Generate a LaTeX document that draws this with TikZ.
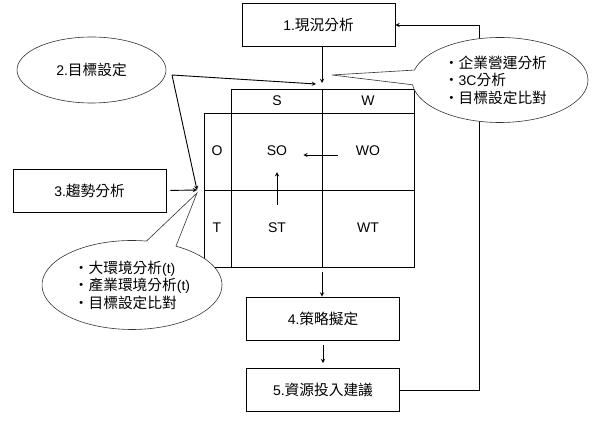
\documentclass[tikz,border=0pt]{standalone}
\usepackage{fontspec}
\setmainfont{Liberation Sans}
\newfontfamily\cjk[Scale=1.05]{Noto Sans CJK TC}
\usetikzlibrary{shapes.geometric, shapes.callouts, arrows}
\tikzstyle{process} = [rectangle, minimum width=153pt, minimum height=43pt, text centered, draw=black, line width=0.9pt, fill=white]
\tikzstyle{goal} = [ellipse, minimum width=149pt, minimum height=66pt, text centered, draw=black!80, line width=0.6pt]
\tikzstyle{note} = [ellipse callout, callout pointer arc=20, align=left, draw=black!80, line width=0.6pt, fill=white]
\tikzstyle{cell} = [inner sep=0pt]
\tikzstyle{grid} = [line width=0.9pt]
\tikzstyle{arrow} = [line width=0.9pt,->,>=stealth]

\begin{document}
\begin{tikzpicture}[x=1pt, y=-1pt, node distance=71.5pt, font=\fontsize{14}{17.5}\selectfont]
\useasboundingbox (0,0) rectangle (597,427);

\node (now) [process] at (318.5,25) {1.{\cjk 現況分析}};
\node (goal) [goal] at (91.5,70) {2.{\cjk 目標設定}};
\node (trend) [process] at (89.5,190.5) {3.{\cjk 趨勢分析}};
\node (strategy) [process] at (323,318.5) {4.{\cjk 策略擬定}};
\node (plan) [process, below of=strategy] {5.{\cjk 資源投入建議}};

% swot matrix
\draw [grid] (231,89) rectangle (414,113);
\draw [grid] (204,113) rectangle (414,267);
\draw [grid] (231,113) -- (231,267);
\draw [grid] (322,89) -- (322,267);
\draw [grid] (204,190) -- (414,190);

\node (s) [cell] at (277,101) {S};
\node (w) [cell] at (368,101) {W};
\node (o) [cell] at (217,151) {O};
\node (t) [cell] at (217,228) {T};
\node (so) [cell] at (277,151) {SO};
\node (wo) [cell] at (368,151) {WO};
\node (st) [cell] at (277,228) {ST};
\node (wt) [cell] at (368,228) {WT};

\coordinate (goalout) at (172,75);
\coordinate (goalin) at (316,84);
\coordinate (swottop) at (322,83);
\coordinate (swotleft) at (197,190);
\coordinate (swotbottom) at (322,272);
\coordinate (nowtip) at (332,75);
\coordinate (trendtip) at (197,193);

\draw [arrow] (now.south -| swottop) -- (swottop);
\draw [arrow] (goalout) -- (goalin);
\draw [arrow] (goalout) -- (swotleft);
\draw [arrow, shorten <=4pt] (trend.east) -- (swotleft);
\draw [arrow, shorten <=18pt, shorten >=16pt] ([yshift=-4pt]wo.west) -- ([yshift=-4pt]so.east);
\draw [arrow, shorten <=18pt, shorten >=16pt] (st.north) -- (so.south);
\draw [arrow] (swotbottom) -- (strategy.north -| swotbottom);
\draw [arrow, shorten <=5pt, shorten >=5pt] (strategy) -- (plan);
\draw [arrow] (plan.east) -- ++(79,0) |- (now.east);

\node (nownote) [note, text width=112pt, minimum width=176pt, minimum height=85pt, callout absolute pointer={(nowtip)}] at (500,80) {{\cjk ・企業營運分析}\\{\cjk ・}3C{\cjk 分析}\\{\cjk ・目標設定比對}};
\node (trendnote) [note, minimum width=180pt, minimum height=89pt, callout absolute pointer={(trendtip)}] at (132,285) {{\cjk ・大環境分析}(t)\\{\cjk ・產業環境分析}(t)\\{\cjk ・目標設定比對}};

\end{tikzpicture}
\end{document}
